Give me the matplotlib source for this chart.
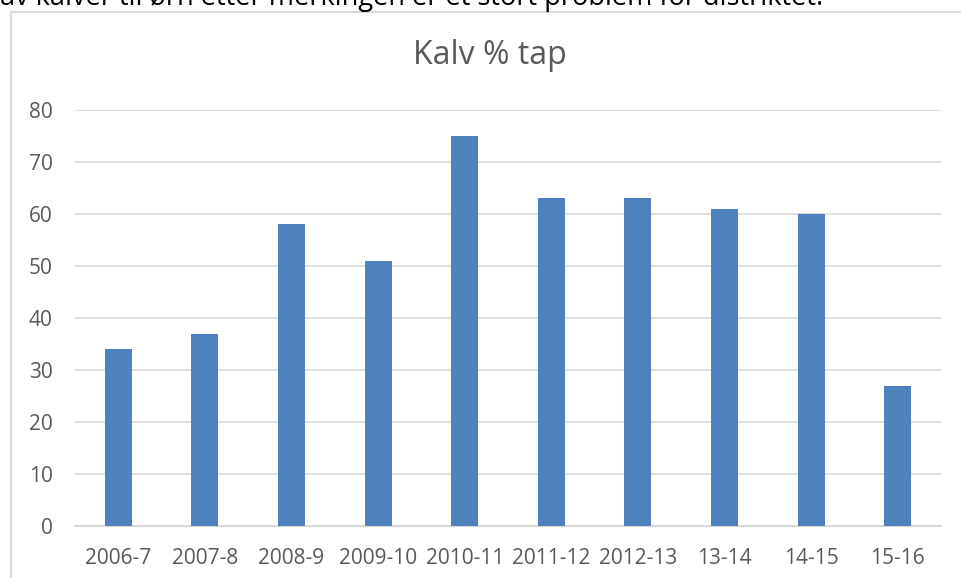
import matplotlib.pyplot as plt
from matplotlib.lines import Line2D

seasons = ['2006-7', '2007-8', '2008-9', '2009-10', '2010-11',
           '2011-12', '2012-13', '13-14', '14-15', '15-16']
tap = [34, 37, 58, 51, 75, 63, 63, 61, 60, 27]

plt.rcParams['font.family'] = ['Open Sans', 'DejaVu Sans']

fig = plt.figure(figsize=(9.61, 5.78), dpi=100)
ax = fig.add_axes([75 / 961, 52 / 578, 866 / 961, 416 / 578])

x = range(len(seasons))
ax.bar(x, tap, width=0.31, color='#4f81bd', zorder=3)

ax.set_xlim(-0.5, len(seasons) - 0.5)
ax.set_ylim(0, 80)
ax.set_yticks(range(0, 81, 10))
ax.set_xticks(list(x))
ax.set_xticklabels(seasons)
ax.grid(axis='y', color='#d9d9d9', linewidth=1.2, zorder=0)
for s in ['top', 'right', 'left']:
    ax.spines[s].set_visible(False)
ax.spines['bottom'].set_color('#d9d9d9')
ax.spines['bottom'].set_linewidth(1.5)
ax.tick_params(length=0, labelsize=15, colors='#595959')
ax.tick_params(axis='y', pad=16)
ax.tick_params(axis='x', pad=16)

# chart title
fig.text(490 / 961, 1 - 56 / 578, 'Kalv % tap', ha='center', va='center',
         fontsize=23, color='#595959')

# chart frame
fig.add_artist(Line2D([11 / 961, 11 / 961], [0, 1 - 12 / 578],
                      color='#d9d9d9', lw=1.5, transform=fig.transFigure))
fig.add_artist(Line2D([11 / 961, 1], [1 - 12 / 578, 1 - 12 / 578],
                      color='#d9d9d9', lw=1.5, transform=fig.transFigure))

# text above the chart (cut off at the top)
fig.text(0, 1 - 5 / 578, 'av kalver til ørn etter merkingen er et stort problem for distriktet.',
         ha='left', va='baseline', fontsize=19.5, color='#000000')

fig.savefig('out.png', dpi=100)
